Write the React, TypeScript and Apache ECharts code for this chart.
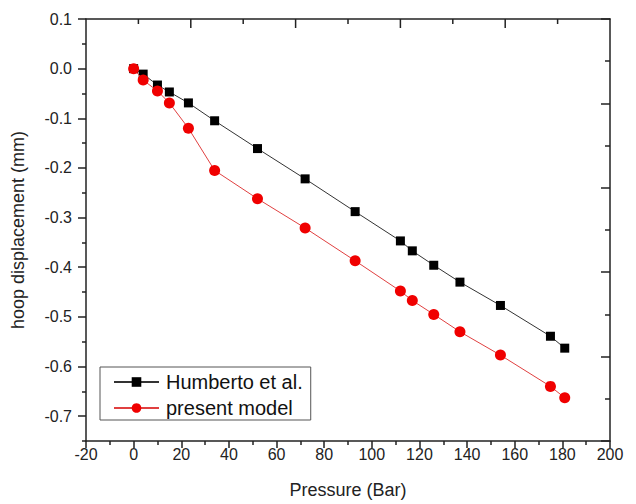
import React, { useEffect, useRef } from "react";
import * as echarts from "echarts";

const pressureHumberto = [0, 4, 10, 15, 23, 34, 52, 72, 93, 112, 117, 126, 137, 154, 175, 181];
const dispHumberto = [0, -0.011, -0.033, -0.047, -0.069, -0.105, -0.161, -0.222, -0.288, -0.347, -0.367, -0.396, -0.430, -0.477, -0.539, -0.563];
const pressureModel = [0, 4, 10, 15, 23, 34, 52, 72, 93, 112, 117, 126, 137, 154, 175, 181];
const dispModel = [0, -0.023, -0.045, -0.069, -0.120, -0.205, -0.262, -0.321, -0.387, -0.448, -0.467, -0.495, -0.530, -0.577, -0.640, -0.663];
const yMajorTicks = [-0.7, -0.6, -0.5, -0.4, -0.3, -0.2, -0.1, 0.0, 0.1];
const yMinorTicks = [-0.75, -0.65, -0.55, -0.45, -0.35, -0.25, -0.15, -0.05, 0.05];
const topTickValues = [1, 2, 3, 4, 5, 6, 7, 8, 9];
const seriesNames = ["Humberto et al.", "present model"];

const FONT = "'Liberation Sans', Arial, sans-serif";
const AXIS_COLOR = "#222";
const Y_MAX = 0.1;

export default function App() {
  const ref = useRef<HTMLDivElement>(null);
  useEffect(() => {
    if (!ref.current) return;
    const chart = echarts.init(ref.current, undefined, { renderer: "svg" });
    const hidden = { show: false };
    const lineSt = { color: AXIS_COLOR, width: 1.5 };
    chart.setOption({
      animation: false,
      backgroundColor: "#fff",
      textStyle: { fontFamily: FONT },
      grid: [{ left: 86, right: 26, top: 19, bottom: 63, outerBoundsMode: "none", containLabel: false }],
      legend: {
        left: 100,
        top: 367,
        orient: "vertical",
        backgroundColor: "#fff",
        borderColor: "#555",
        borderWidth: 1,
        borderRadius: 0,
        padding: [5, 8, 2, 13],
        itemWidth: 45,
        itemHeight: 12,
        itemGap: 6,
        textStyle: { fontSize: 20, color: "#111", fontFamily: FONT, lineHeight: 20, padding: [0, 0, 0, 2] },
        data: seriesNames,
      },
      xAxis: [
        {
          type: "value",
          gridIndex: 0,
          position: "bottom",
          min: -20,
          max: 200,
          interval: 20,
          name: "Pressure (Bar)",
          nameLocation: "middle",
          nameGap: 40,
          nameTextStyle: { fontSize: 18, color: "#222", fontFamily: FONT },
          axisLine: { show: true, onZero: false, lineStyle: lineSt },
          axisTick: { show: true, inside: false, length: 7, lineStyle: lineSt },
          minorTick: { show: true, splitNumber: 2, length: 4, lineStyle: lineSt },
          axisLabel: { fontSize: 16, color: "#222", margin: 5, fontFamily: FONT },
          splitLine: hidden,
        },
        {
          type: "value",
          gridIndex: 0,
          position: "top",
          min: 0,
          max: 10,
          interval: 2,
          axisLine: { show: true, onZero: false, lineStyle: lineSt },
          axisTick: hidden,
          axisLabel: hidden,
          splitLine: hidden,
        },
      ],
      yAxis: [
        {
          type: "value",
          gridIndex: 0,
          position: "left",
          min: -0.75,
          max: Y_MAX,
          name: "hoop displacement (mm)",
          nameLocation: "middle",
          nameRotate: 90,
          nameGap: 59,
          nameTextStyle: { fontSize: 18, color: "#222", fontFamily: FONT },
          axisLine: { show: true, onZero: false, lineStyle: lineSt },
          axisTick: { show: true, inside: false, length: 8, customValues: yMajorTicks, lineStyle: lineSt },
          axisLabel: {
            fontSize: 16,
            color: "#222",
            margin: 14,
            fontFamily: FONT,
            customValues: yMajorTicks,
            formatter: (v: number) => v.toFixed(1),
          },
          splitLine: hidden,
        },
        {
          type: "value",
          gridIndex: 0,
          position: "left",
          min: -0.75,
          max: Y_MAX,
          axisLine: { show: false, onZero: false },
          axisTick: { show: true, inside: false, length: 4, customValues: yMinorTicks, lineStyle: lineSt },
          axisLabel: { show: false, customValues: yMinorTicks },
          splitLine: hidden,
        },
        {
          type: "value",
          gridIndex: 0,
          position: "right",
          min: 0,
          max: 10,
          interval: 2,
          axisLine: { show: true, onZero: false, lineStyle: lineSt },
          axisTick: { show: true, inside: true, length: 9, lineStyle: lineSt },
          minorTick: { show: true, splitNumber: 2, length: 5, lineStyle: lineSt },
          axisLabel: hidden,
          splitLine: hidden,
          minorSplitLine: hidden,
        },
      ],
      series: [
        {
          name: seriesNames[0],
          type: "line",
          xAxisIndex: 0,
          yAxisIndex: 0,
          data: pressureHumberto.map((p, i) => [p, dispHumberto[i]]),
          symbol: "rect",
          symbolSize: 9,
          itemStyle: { color: "#000" },
          lineStyle: { color: "#333", width: 1 },
          z: 3,
        },
        {
          name: seriesNames[1],
          type: "line",
          xAxisIndex: 0,
          yAxisIndex: 0,
          data: pressureModel.map((p, i) => [p, dispModel[i]]),
          symbol: "circle",
          symbolSize: 11,
          itemStyle: { color: "#f00000" },
          lineStyle: { color: "#e04040", width: 1 },
          z: 4,
        },
        {
          name: "topTicks",
          type: "custom",
          xAxisIndex: 1,
          yAxisIndex: 0,
          silent: true,
          clip: false,
          z: 5,
          data: topTickValues.map((v) => [v, Y_MAX]),
          renderItem: (params: any, api: any) => {
            const v = api.value(0);
            const p = api.coord([v, api.value(1)]);
            const len = v % 2 === 0 ? 9 : 5;
            return {
              type: "line",
              shape: { x1: p[0], y1: p[1], x2: p[0], y2: p[1] + len },
              style: { stroke: AXIS_COLOR, lineWidth: 1.5 },
            };
          },
        },
      ],
    });
    return () => chart.dispose();
  }, []);
  return <div ref={ref} style={{ position: "absolute", left: 0, top: 0, width: 636, height: 504 }} />;
}
